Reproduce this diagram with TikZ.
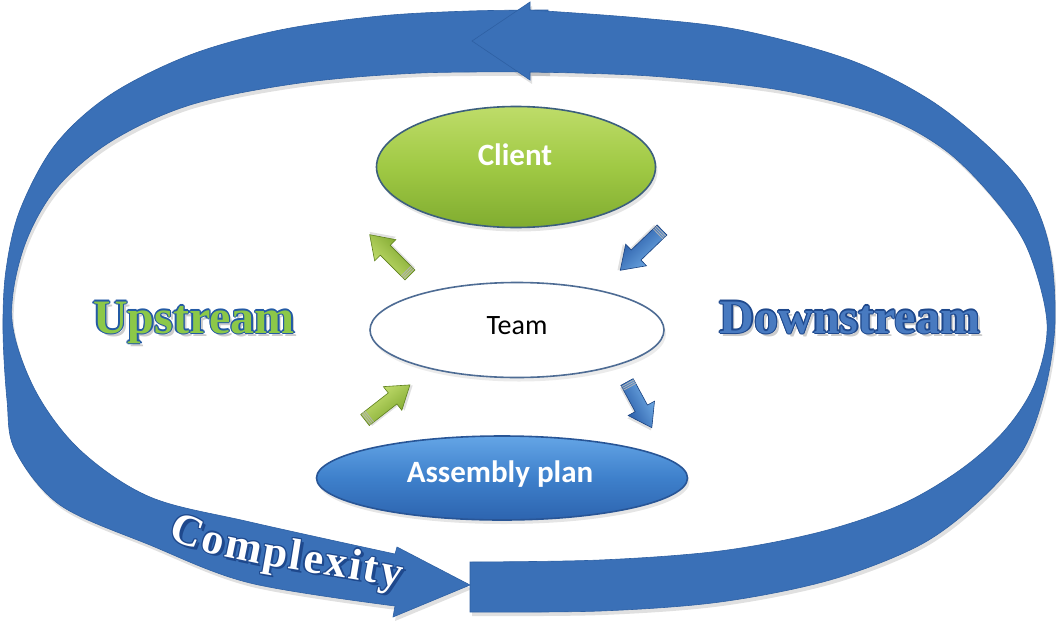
\documentclass[tikz,border=0pt]{standalone}
\usepackage{fontspec}
\setmainfont{Carlito}
\newfontfamily\serifb{Liberation Serif}
\usetikzlibrary{shapes.geometric,decorations.text}
\definecolor{band}{RGB}{58,112,183}
\definecolor{bandedge}{RGB}{46,96,163}
\definecolor{cltop}{RGB}{190,220,105}
\definecolor{clmid}{RGB}{160,201,68}
\definecolor{clbot}{RGB}{128,172,48}
\definecolor{cledge}{RGB}{60,95,125}
\definecolor{astop}{RGB}{100,165,230}
\definecolor{asmid}{RGB}{62,128,203}
\definecolor{asbot}{RGB}{45,100,175}
\definecolor{asedge}{RGB}{40,85,150}
\definecolor{teamedge}{RGB}{78,108,148}
\definecolor{upfill}{RGB}{140,200,72}
\definecolor{upedge}{RGB}{35,90,165}
\definecolor{dnfill}{RGB}{72,122,192}
\definecolor{dnedge}{RGB}{30,72,140}
\definecolor{gnlight}{RGB}{205,230,120}
\definecolor{gndark}{RGB}{118,160,38}
\definecolor{bllight}{RGB}{120,180,235}
\definecolor{bldark}{RGB}{32,82,160}
\newcommand\bigfont{\serifb\bfseries\fontsize{48}{56}\selectfont}
\newcommand\cxfont{\serifb\bfseries\fontsize{44}{50}\selectfont}
\newcommand\clfont{\bfseries\fontsize{31}{36}\selectfont}
\newcommand\tmfont{\fontsize{28}{32}\selectfont}
\tikzset{
  oval/.style={ellipse, inner sep=0pt, line width=1.6pt},
  lbl/.style={anchor=base, inner sep=0pt},
  greenarrow/.style={top color=gnlight, bottom color=gndark, draw=gndark!80!black, line width=0.6pt},
  bluearrow/.style={top color=bllight, bottom color=bldark, draw=bldark!80!black, line width=0.6pt},
  leftband/.pic={\path[pic actions]
    plot[smooth, tension=0.55] coordinates {(548,10) (470,11) (380,16) (280,30) (190,55) (110,95) (55,145) (20,210) (6,270) (3,330) (7,400) (15,450) (60,505) (150,545) (250,583) (395,606)}
    -- (393,617) -- (470,585) -- (397,547) -- (395,554)
    -- plot[smooth, tension=0.55] coordinates {(395,554) (250,522) (150,497) (80,450) (35,390) (12,320) (23,250) (55,190) (110,142) (190,105) (300,83) (420,73) (548,72)}
    -- cycle;},
  rightband/.pic={\path[pic actions]
    plot[smooth, tension=0.55] coordinates {(470,612) (600,611) (720,602) (830,580) (920,545) (980,500) (1023,450) (1045,390) (1055,323) (1050,250) (1030,195) (992,150) (930,100) (850,60) (740,30) (640,18) (530,10)}
    -- (530,2) -- (472,41) -- (530,80) -- (530,72)
    -- plot[smooth, tension=0.55] coordinates {(530,72) (650,76) (780,90) (880,115) (945,150) (995,200) (1028,250) (1047,323) (1035,383) (1005,430) (960,470) (900,505) (820,532) (720,551) (600,560) (470,562)}
    -- cycle;}
}
\newcommand\fatarrow[5]{%
  \begin{scope}[shift={(#2)}, rotate=#3]
    \fill[black, opacity=0.12] (2,-5) -- ({#4-20},-5) -- ({#4-20},-13) -- ({#4+2},2) -- ({#4-20},17) -- ({#4-20},9) -- (2,9) -- cycle;
    \path[#5, shading angle=#3] (0,-7) -- ({#4-22},-7) -- ({#4-22},-15) -- (#4,0) -- ({#4-22},15) -- ({#4-22},7) -- (0,7) -- cycle;
    \draw[gray!60, line width=0.8pt] (1.5,-7) -- (1.5,7) (3.5,-7) -- (3.5,7) (5.5,-7) -- (5.5,7);
    \coordinate (#1) at (#4,0);
  \end{scope}}
\newcommand\outlinetext[6]{%
  \node[lbl, font=#6, text=black!20] (#1-sh) at ([shift={(3,3)}]#2) {#3};
  \foreach \dx/\dy [count=\k] in {-1.3/0,1.3/0,0/-1.3,0/1.3,-0.9/-0.9,0.9/-0.9,-0.9/0.9,0.9/0.9}
    \node[lbl, font=#6, text=#5] (#1-o\k) at ([shift={(\dx,\dy)}]#2) {#3};
  \node[lbl, font=#6, text=#4] (#1) at (#2) {#3};}
\begin{document}
\begin{tikzpicture}[x=1pt,y=-1pt]
\useasboundingbox (0,0) rectangle (1056,621);
\fill[white] (0,0) rectangle (1056,621);
% shadows of the ring
\pic[fill=black, opacity=0.12] at (2,4) {leftband};
\pic[fill=black, opacity=0.12] at (2,4) {rightband};
% ring arrows
\pic[fill=band, draw=bandedge, line width=0.6pt] at (0,0) {leftband};
\pic[fill=band, draw=bandedge, line width=0.6pt] at (0,0) {rightband};
% Complexity along the band
\foreach \dx/\dy in {2.5/2.5,-1.2/0,1.2/0,0/-1.2,0/1.2,-0.85/-0.85,0.85/-0.85,-0.85/0.85,0.85/0.85}{
  \begin{scope}[shift={(\dx,\dy)}]
    \path[decorate, decoration={text along path, text={|\cxfont\color{dnedge}|Complexity}, text align=fit to path}]
      (168,538) .. controls (228,566) and (330,572) .. (400,588);
  \end{scope}}
\path[decorate, decoration={text along path, text={|\cxfont\color{white}|Complexity}, text align=fit to path}]
  (168,538) .. controls (228,566) and (330,572) .. (400,588);
% ellipses
\node (clientsh) [oval, minimum width=279pt, minimum height=121pt, fill=black, opacity=0.10] at (518,171) {};
\node (client) [oval, minimum width=279pt, minimum height=121pt, draw=cledge, top color=cltop, bottom color=clbot, middle color=clmid] at (516,167) {};
\node (teamsh) [oval, minimum width=294pt, minimum height=95pt, fill=black, opacity=0.08] at (519,334) {};
\node (team) [oval, minimum width=294pt, minimum height=95pt, draw=teamedge, fill=white] at (517,330) {};
\node (asssh) [oval, minimum width=371pt, minimum height=84pt, fill=black, opacity=0.10] at (504,482) {};
\node (assembly) [oval, minimum width=371pt, minimum height=84pt, draw=asedge, top color=astop, bottom color=asbot, middle color=asmid] at (502,478) {};
\node (clientlbl) [lbl, font=\clfont, text=white] at (515,165) {Client};
\node (teamlbl) [lbl, font=\tmfont, text=black] at (517,334) {Team};
\node (assemblylbl) [lbl, font=\clfont, text=white] at (500,482) {Assembly plan};
% small block arrows
\fatarrow{ga1}{410,275}{135}{57}{greenarrow}
\fatarrow{ba1}{662,230}{224}{58}{bluearrow}
\fatarrow{ga2}{365,420}{38}{57}{greenarrow}
\fatarrow{ba2}{627,382}{-61.5}{52}{bluearrow}
% side words
\outlinetext{up}{194,333}{Upstream}{upfill}{upedge}{\bigfont}
\outlinetext{down}{850,333}{Downstream}{dnfill}{dnedge}{\bigfont}
\end{tikzpicture}
\end{document}
